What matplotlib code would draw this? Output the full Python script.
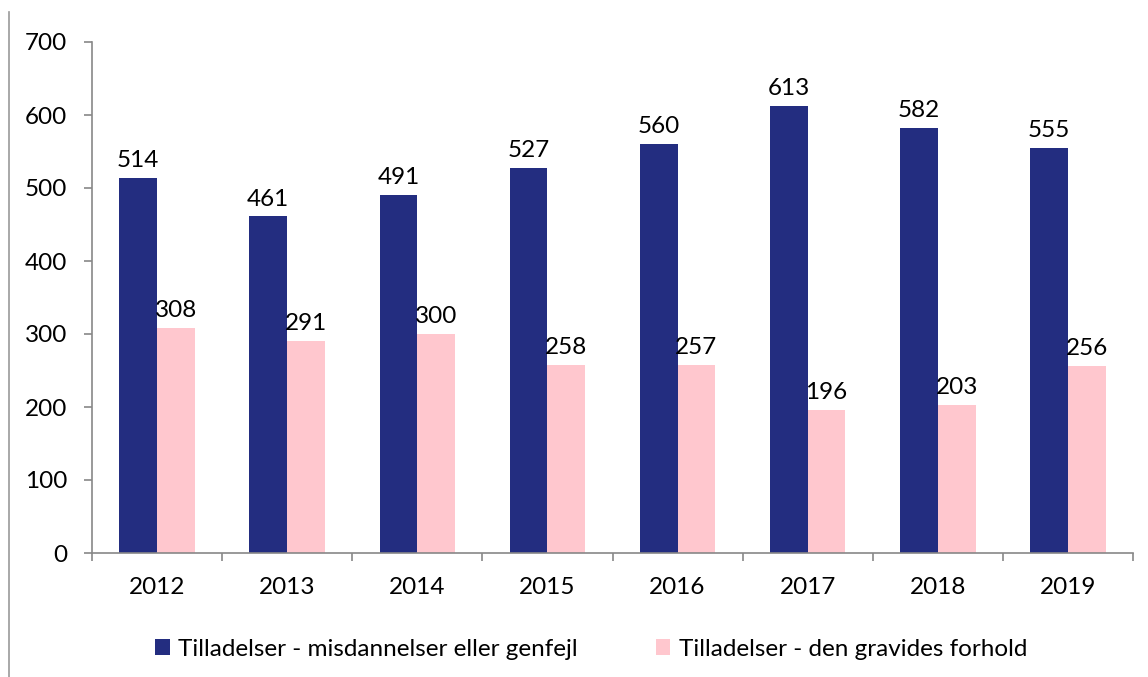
import matplotlib
matplotlib.use("Agg")
import matplotlib.pyplot as plt
import numpy as np
from matplotlib.lines import Line2D

years = ["2012", "2013", "2014", "2015", "2016", "2017", "2018", "2019"]
misdannelser = [514, 461, 491, 527, 560, 613, 582, 555]
gravides = [308, 291, 300, 258, 257, 196, 203, 256]
series_names = ["Tilladelser - misdannelser eller genfejl",
                "Tilladelser - den gravides forhold"]

plt.rcParams['font.family'] = ['Lato', 'DejaVu Sans']

W, H = 1148, 677
fig = plt.figure(figsize=(W / 100, H / 100), dpi=100)
ax = fig.add_axes([92 / W, 1 - 553 / H, (1133 - 92) / W, (553 - 42) / H])

x = np.arange(len(years))
bw = 0.29
blue = "#232D80"
pink = "#FFC7CE"
b1 = ax.bar(x - bw / 2, misdannelser, bw, color=blue, label=series_names[0])
b2 = ax.bar(x + bw / 2, gravides, bw, color=pink, label=series_names[1])

for rects, vals in ((b1, misdannelser), (b2, gravides)):
    for r, v in zip(rects, vals):
        ax.annotate(str(v), (r.get_x() + r.get_width() / 2, v),
                    xytext=(0, 5), textcoords="offset points",
                    ha="center", va="bottom", fontsize=17.5, color="black")

ax.set_xlim(-0.5, len(years) - 0.5)
ax.set_ylim(0, 700)
ax.set_yticks(range(0, 701, 100))
ax.set_xticks(x)
ax.set_xticklabels(years)
ax.set_xticks(np.arange(-0.5, len(years), 1), minor=True)
ax.tick_params(axis="x", which="major", length=0, pad=17, labelsize=17.5)
ax.tick_params(axis="x", which="minor", length=6, color="#888888", width=1.2)
ax.tick_params(axis="y", length=6, color="#888888", width=1.2, pad=12, labelsize=17.5)
for s in ("top", "right"):
    ax.spines[s].set_visible(False)
for s in ("left", "bottom"):
    ax.spines[s].set_color("#888888")
    ax.spines[s].set_linewidth(1.2)

fig.add_artist(Line2D([9 / W, 9 / W], [0, 1 - 12 / H], transform=fig.transFigure,
                      color="#999999", linewidth=1.2))

fig.legend(handles=[b1, b2], loc="center", bbox_to_anchor=(591 / W, 1 - 649 / H),
           ncol=2, frameon=False, fontsize=17.5, handlelength=0.6, handleheight=0.6,
           handletextpad=0.35, columnspacing=3.2)

fig.savefig("out.png", dpi=100)
